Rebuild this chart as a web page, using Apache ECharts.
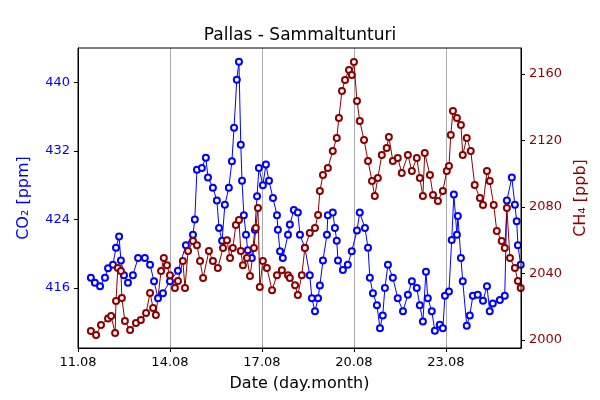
<!DOCTYPE html>
<html>
<head>
<meta charset="utf-8">
<script src="https://cdn.jsdelivr.net/npm/echarts@6/dist/echarts.min.js"></script>
<style>
    html, body { margin: 0; padding: 0; background: #fff; }
    #main { width: 600px; height: 400px; }
</style>
</head>
<body>
<div id="main"></div>
<script>
    // days since 11.08 00:00
    var co2Days = [0.42,0.55,0.72,0.88,0.98,1.14,1.24,1.34,1.40,1.50,1.63,1.79,1.96,2.18,2.35,2.48,2.61,2.77,3.00,3.26,3.52,3.75,3.81,3.88,4.04,4.17,4.24,4.40,4.53,4.60,4.70,4.79,4.92,5.02,5.09,5.18,5.25,5.31,5.35,5.41,5.48,5.54,5.67,5.77,5.84,5.90,6.03,6.13,6.23,6.36,6.49,6.52,6.59,6.68,6.85,6.91,7.04,7.17,7.24,7.40,7.56,7.63,7.73,7.83,7.89,7.99,8.12,8.15,8.31,8.38,8.44,8.48,8.64,8.80,8.93,9.10,9.19,9.36,9.46,9.52,9.62,9.75,9.85,9.94,10.01,10.11,10.27,10.43,10.60,10.76,10.89,11.05,11.15,11.25,11.35,11.41,11.54,11.64,11.80,11.90,11.97,12.10,12.19,12.26,12.36,12.39,12.49,12.55,12.68,12.78,12.88,13.04,13.21,13.34,13.43,13.53,13.76,13.92,13.99,14.15,14.25,14.31,14.35,14.44];
    var co2Values = [417.2,416.6,416.2,417.2,418.3,418.7,420.7,422.0,419.2,417.5,416.6,417.5,419.5,419.5,418.7,416.8,414.8,415.4,416.8,418.0,421.0,422.2,424.0,429.8,430.0,431.2,428.9,427.7,426.2,423.0,421.5,425.7,427.7,430.8,434.7,440.3,442.4,432.7,428.5,424.5,422.2,420.4,419.5,422.8,426.7,430.0,428.0,430.4,428.5,426.5,424.5,422.8,420.3,419.5,422.2,423.4,425.1,424.8,422.2,420.7,417.5,414.8,413.3,414.8,416.3,419.2,422.2,424.5,424.8,423.0,421.5,419.2,418.1,418.7,420.3,422.7,424.8,423.0,420.7,417.2,415.4,414.0,411.3,412.8,416.0,418.7,417.2,414.8,413.3,415.2,416.8,416.0,414.0,412.1,417.9,414.8,413.3,411.0,411.7,411.3,415.1,415.6,421.6,426.9,422.2,424.4,419.5,416.8,411.6,412.8,415.1,415.2,414.5,416.2,413.3,414.2,414.6,415.1,426.2,428.9,425.7,423.8,421.0,418.7];
    var ch4Days = [0.42,0.59,0.75,0.98,1.08,1.21,1.24,1.30,1.40,1.43,1.53,1.70,1.89,2.05,2.22,2.35,2.45,2.54,2.71,2.80,2.90,3.00,3.16,3.26,3.42,3.49,3.59,3.75,3.88,3.98,4.08,4.27,4.40,4.56,4.73,4.86,4.96,5.05,5.15,5.25,5.31,5.38,5.51,5.61,5.74,5.80,5.87,5.93,6.03,6.16,6.33,6.49,6.65,6.85,6.91,7.08,7.17,7.30,7.40,7.56,7.73,7.83,7.89,7.99,8.15,8.31,8.44,8.51,8.61,8.71,8.84,8.93,9.00,9.10,9.19,9.33,9.46,9.59,9.68,9.78,9.91,10.07,10.14,10.27,10.43,10.56,10.76,10.89,11.05,11.15,11.25,11.31,11.48,11.58,11.74,11.90,12.03,12.10,12.16,12.23,12.36,12.49,12.55,12.68,12.81,12.94,13.11,13.21,13.34,13.43,13.56,13.66,13.82,13.92,13.99,14.09,14.25,14.35,14.44];
    var ch4Values = [2005.4,2003.0,2009.0,2013.0,2014.4,2004.2,2023.5,2043.3,2041.5,2025.3,2011.4,2006.0,2010.2,2012.0,2016.2,2028.3,2019.2,2015.0,2041.5,2049.3,2045.0,2039.0,2031.3,2035.5,2047.5,2031.3,2053.5,2059.5,2057.0,2047.5,2037.3,2053.5,2047.5,2043.3,2055.3,2060.0,2049.3,2055.3,2069.2,2072.2,2053.5,2045.0,2049.3,2038.5,2055.3,2067.4,2079.4,2031.9,2047.5,2043.3,2030.0,2039.0,2042.0,2039.0,2037.3,2033.0,2027.0,2039.0,2055.3,2064.4,2067.4,2075.2,2089.6,2099.2,2103.5,2113.7,2121.5,2133.5,2149.8,2156.4,2162.4,2159.4,2167.2,2143.8,2131.7,2120.3,2107.7,2095.6,2086.6,2097.4,2111.3,2115.5,2122.1,2107.7,2109.5,2100.5,2111.3,2101.6,2109.5,2097.4,2086.6,2112.5,2099.2,2087.2,2083.6,2089.6,2101.6,2104.6,2123.3,2137.7,2133.5,2129.3,2111.3,2121.5,2113.7,2093.2,2085.4,2081.2,2101.6,2095.6,2081.2,2065.6,2059.5,2055.3,2079.4,2049.3,2043.3,2035.5,2031.3];
    var dayLabels = ['11.08','14.08','17.08','20.08','23.08'];
    var co2Ticks = [416,424,432,440];
    var ch4Ticks = [2000,2040,2080,2120,2160];

    function pairs(xs, ys) {
        return xs.map(function (d, i) { return [d, ys[i]]; });
    }

    var myChart = echarts.init(document.getElementById('main'));
    var font = 'DejaVu Sans';

    myChart.setOption({
        animation: false,
        title: {
            text: 'Pallas - Sammaltunturi',
            left: 'center', top: 22,
            textStyle: { fontFamily: font, fontSize: 17, fontWeight: 'normal', color: '#000' }
        },
        grid: { left: 78, right: 79, top: 48, bottom: 52 },
        xAxis: {
            type: 'value', min: 0, max: 14.45, interval: 3,
            name: 'Date (day.month)', nameLocation: 'middle', nameGap: 28,
            nameTextStyle: { fontFamily: font, fontSize: 16, color: '#000' },
            axisLine: { show: true, onZero: false, lineStyle: { color: '#000' } },
            axisTick: { show: true, length: 4, lineStyle: { color: '#000' } },
            axisLabel: {
                fontFamily: font, fontSize: 13, color: '#000', showMaxLabel: false,
                formatter: function (v) { return dayLabels[Math.round(v / 3)] || ''; }
            },
            splitLine: { show: true, lineStyle: { color: '#aaaaaa', width: 1 } }
        },
        yAxis: [{
            type: 'value', min: 409, max: 444, position: 'left',
            name: 'CO\u2082 [ppm]', nameLocation: 'middle', nameGap: 46,
            nameTextStyle: { fontFamily: font, fontSize: 16, color: '#0000ff' },
            axisLine: { show: true, lineStyle: { color: '#000' } },
            axisTick: { show: true, length: 4, customValues: co2Ticks, lineStyle: { color: '#000' } },
            axisLabel: { fontFamily: font, fontSize: 13, color: '#0000ff', customValues: co2Ticks },
            splitLine: { show: false }
        }, {
            type: 'value', min: 1995.2, max: 2175.6, position: 'right',
            name: 'CH\u2084 [ppb]', nameLocation: 'middle', nameGap: 52,
            nameTextStyle: { fontFamily: font, fontSize: 16, color: '#8b0000' },
            axisLine: { show: true, lineStyle: { color: '#000' } },
            axisTick: { show: true, length: 4, customValues: ch4Ticks, lineStyle: { color: '#000' } },
            axisLabel: {
                fontFamily: font, fontSize: 13, color: '#8b0000', customValues: ch4Ticks,
                formatter: function (v) { return String(v); }
            },
            splitLine: { show: false }
        }],
        series: [{
            name: 'CO2', type: 'line', yAxisIndex: 0,
            data: pairs(co2Days, co2Values),
            symbol: 'emptyCircle', symbolSize: 6, showAllSymbol: true,
            lineStyle: { color: '#0000ff', width: 1 },
            itemStyle: { color: '#0000ff', borderColor: '#0000ff', borderWidth: 1 }
        }, {
            name: 'CH4', type: 'line', yAxisIndex: 1,
            data: pairs(ch4Days, ch4Values),
            symbol: 'emptyCircle', symbolSize: 6, showAllSymbol: true,
            lineStyle: { color: '#8b0000', width: 1 },
            itemStyle: { color: '#8b0000', borderColor: '#8b0000', borderWidth: 1 }
        }],
        graphic: [{
            type: 'rect', shape: { x: 78, y: 48, width: 443, height: 300 },
            style: { fill: 'none', stroke: '#000', lineWidth: 1 }, silent: true, z: 100
        }]
    });
</script>
</body>
</html>
